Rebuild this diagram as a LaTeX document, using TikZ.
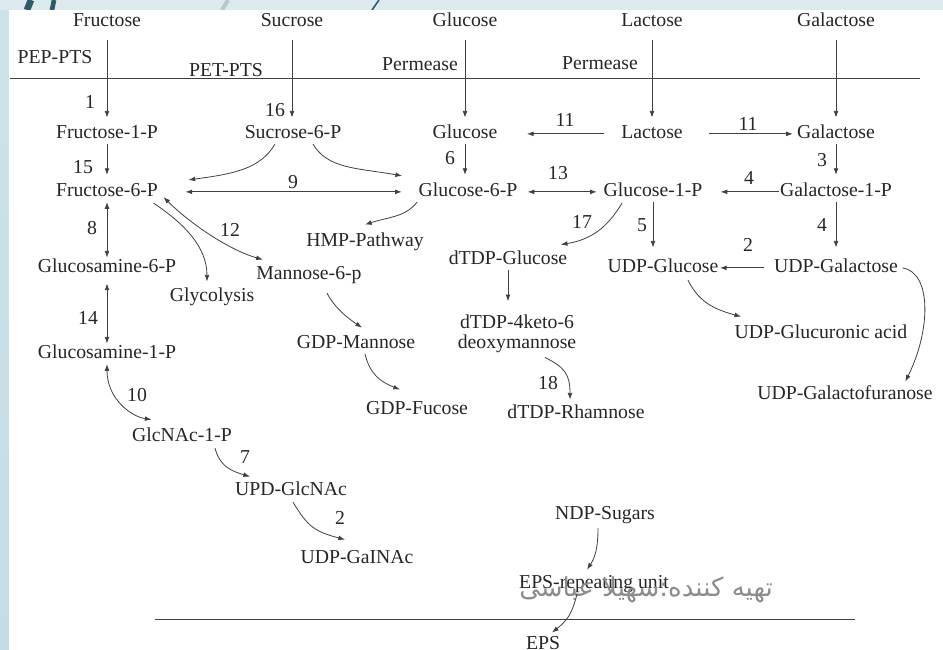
\documentclass[tikz,border=0pt]{standalone}
\usepackage{fontspec}
\setmainfont{Liberation Serif}
\newfontfamily\persianfont[Script=Arabic]{DejaVu Sans}
\TeXXeTstate=1
\usetikzlibrary{calc}
\usetikzlibrary{arrows.meta}

\begin{document}
\begin{tikzpicture}[x=0.75pt, y=-0.75pt]
    \colorlet{ink}{black!85}
\colorlet{wire}{black!75}
\colorlet{signature}{black!45}
\definecolor{slidetop}{HTML}{DCE9ED}
\definecolor{slideleft}{HTML}{C4DDE5}
\definecolor{slidedark}{HTML}{2E5A6B}
\definecolor{slidepale}{HTML}{B4C8D0}

\useasboundingbox (0, 0) rectangle (943, 650);

\begin{scope}
    \fill[slidetop] (0, 0) rectangle (943, 650);
    \fill[top color=slideleft!60!slidetop, bottom color=slideleft]
        (0, 10) rectangle (9, 650);
    \draw[slidepale, line width=3pt] (222, 10) -- (228, 0);
    \draw[slidedark, line width=5pt] (27, 10) -- (31, 0);
    \draw[slidedark, line width=3.5pt] (52, 10) -- (54, 0);
    \draw[slidedark, line width=1.2pt] (372, 10) -- (379, 0);
    \fill[white] (9, 10) rectangle (943, 650);
\end{scope}

    \tikzset{
        metab/.style={
            text=ink, font=\fontsize{14.8pt}{15pt}\selectfont,
            inner sep=1pt, text height=10pt, text depth=3pt,
            yshift=-1.4pt,
        },
        twoline/.style={
            metab, align=center,
            text height=, text depth=,
        },
        flow/.style={
            wire, line width=0.6pt,
            -{Latex[length=5pt, width=3.6pt]},
        },
        twoway/.style={
            flow,
            {Latex[length=5pt, width=3.6pt]}-{Latex[length=5pt, width=3.6pt]},
        },
        membrane/.style={wire, line width=0.7pt},
    }

    % sugars outside the cell
    \node[metab] (fru) at (107, 20) {Fructose};
    \node[metab] (suc) at (292, 20) {Sucrose};
    \node[metab] (glcout) at (465, 20) {Glucose};
    \node[metab] (lacout) at (652, 20) {Lactose};
    \node[metab] (galout) at (836, 20) {Galactose};

    \node[metab] (pep) at (55, 57) {PEP-PTS};
    \node[metab] (pet) at (226, 70) {PET-PTS};
    \node[metab] (perm-a) at (420, 64) {Permease};
    \node[metab] (perm-b) at (600, 63) {Permease};

    \draw[membrane] (10, 78) -- (920, 78);

    % inside the cell
    \node[metab] (fru1p) at (107, 132) {Fructose-1-P};
    \node[metab] (suc6p) at (293, 132) {Sucrose-6-P};
    \node[metab] (glc) at (465, 132) {Glucose};
    \node[metab] (lac) at (652, 132) {Lactose};
    \node[metab] (gal) at (836, 132) {Galactose};

    \node[metab] (fru6p) at (107, 190) {Fructose-6-P};
    \node[metab] (glc6p) at (468, 190) {Glucose-6-P};
    \node[metab] (glc1p) at (653, 190) {Glucose-1-P};
    \node[metab] (gal1p) at (836, 190) {Galactose-1-P};

    \node[metab] (gln6p) at (107, 266) {Glucosamine-6-P};
    \node[metab] (glycolysis) at (212, 295) {Glycolysis};
    \node[metab] (man6p) at (309, 273) {Mannose-6-p};
    \node[metab] (hmp) at (365, 240) {HMP-Pathway};
    \node[metab] (dtdpglc) at (508, 258) {dTDP-Glucose};
    \node[metab] (udpglc) at (663, 266) {UDP-Glucose};
    \node[metab] (udpgal) at (836, 266) {UDP-Galactose};

    \node[metab] (gln1p) at (107, 352) {Glucosamine-1-P};
    \node[metab] (gdpman) at (356, 342) {GDP-Mannose};
    \node[twoline] (dtdpketo) at (517, 332) {dTDP-4keto-6\\deoxymannose};
    \node[metab] (udpgca) at (821, 332) {UDP-Glucuronic acid};
    \node[metab] (udpgalf) at (845, 393) {UDP-Galactofuranose};
    \node[metab] (gdpfuc) at (417, 408) {GDP-Fucose};
    \node[metab] (dtdprha) at (576, 412) {dTDP-Rhamnose};

    \node[metab] (glcnac1p) at (182, 435) {GlcNAc-1-P};
    \node[metab] (udpglcnac) at (291, 489) {UPD-GlcNAc};
    \node[metab] (udpgalnac) at (357, 557) {UDP-GaINAc};

    \node[metab] (ndp) at (605, 513) {NDP-Sugars};
    \node[metab] (epsru) at (594, 582) {EPS-repeating unit};
    \node[metab] (eps) at (543, 643) {EPS};

    \draw[membrane] (155, 619) -- (855, 619);

    \node[text=signature, font=\persianfont\fontsize{19.5pt}{21pt}\selectfont,
        inner sep=0pt] (sign) at (646, 590)
        {\beginR تهیه کننده:سهیلا عباسی\endR};

    % enzyme numbers
    \node[metab] (e1) at (90, 102) {1};
    \node[metab] (e16) at (275, 110) {16};
    \node[metab] (e11a) at (565, 120) {11};
    \node[metab] (e11b) at (748, 124) {11};
    \node[metab] (e15) at (83, 167) {15};
    \node[metab] (e6) at (450, 158) {6};
    \node[metab] (e3) at (822, 160) {3};
    \node[metab] (e9) at (293, 182) {9};
    \node[metab] (e13) at (558, 173) {13};
    \node[metab] (e4a) at (749, 178) {4};
    \node[metab] (e8) at (92, 228) {8};
    \node[metab] (e12) at (230, 230) {12};
    \node[metab] (e17) at (582, 222) {17};
    \node[metab] (e5) at (642, 225) {5};
    \node[metab] (e4b) at (822, 225) {4};
    \node[metab] (e2a) at (748, 245) {2};
    \node[metab] (e14) at (88, 318) {14};
    \node[metab] (e18) at (548, 383) {18};
    \node[metab] (e10) at (137, 395) {10};
    \node[metab] (e7) at (245, 457) {7};
    \node[metab] (e2b) at (340, 518) {2};

    % uptake
    \draw[flow, shorten <=6pt, shorten >=4.5pt] (fru) -- (fru1p);
    \draw[flow, shorten <=6pt, shorten >=4.5pt] (suc) -- (suc |- suc6p.north);
    \draw[flow, shorten <=6pt, shorten >=4.5pt] (glcout) -- (glc);
    \draw[flow, shorten <=6pt, shorten >=4.5pt] (lacout) -- (lac);
    \draw[flow, shorten <=6pt, shorten >=4.5pt] (galout) -- (gal);

    % straight steps
    \draw[flow, shorten >=5pt] (fru1p) -- (fru6p);
    \draw[flow, shorten >=5pt] (glc) -- (glc |- glc6p.north);
    \draw[flow, shorten >=5pt] (gal) -- (gal1p);
    \draw[flow, shorten >=7.5pt] (glc1p) -- (glc1p |- udpglc.north);
    \draw[flow, shorten >=7.5pt] (gal1p) -- (udpgal);
    \draw[twoway] (fru6p) -- (gln6p);
    \draw[twoway, shorten <=4pt] (gln6p) -- (gln1p);
    \draw[flow, shorten >=9pt] (dtdpglc) -- (dtdpglc |- dtdpketo.north);

    \draw[flow, shorten <=12pt, shorten >=21pt] (lac.west) -- (glc.east);
    \draw[flow, shorten <=18.5pt, shorten >=2pt] (lac.east) -- (gal.west);
    \draw[twoway, shorten <=19.5pt, shorten >=11.5pt] (fru6p.east) -- (glc6p.west);
    \draw[twoway, shorten <=6.5pt, shorten >=4pt] (glc6p.east) -- (glc1p.west);
    \draw[flow, shorten >=12.5pt] (gal1p.west) -- (glc1p.east);
    \draw[flow, shorten <=6pt] (udpgal.west) -- (udpglc.east);

    % curved steps
    \draw[flow] ($(suc6p.south)+(-18,0)$)
        .. controls +(-15,25) and +(45,-6) .. ($(fru6p.east)+(29,-12)$);
    \draw[flow] ($(suc6p.south)+(20,0)$)
        .. controls +(15,25) and +(-45,-8) .. ($(glc6p.west)+(-15,-16)$);
    \draw[twoway] ($(fru6p.south east)+(4,-5)$)
        .. controls +(25,25) and +(-35,-10) .. ($(man6p.north west)+(8,-5)$);
    \draw[flow] ($(fru6p.south east)+(-6,1)$)
        .. controls +(30,20) and +(0,-35) .. ($(glycolysis.north)+(-5,-5)$);
    \draw[flow] (glc6p.south west)
        .. controls +(-12,15) and +(25,-8) .. ($(hmp.north)+(0,-7)$);
    \draw[flow] ($(man6p.south)+(18,8)$)
        .. controls +(8,15) and +(-15,-10) .. ($(gdpman.north)+(6,-6)$);
    \draw[flow] ($(gdpman.south)+(9,0)$)
        .. controls +(5,20) and +(-20,-8) .. ($(gdpfuc.north)+(-17,-10)$);
    \draw[flow] ($(glc1p.south)+(-31,1)$)
        .. controls +(-15,25) and +(30,-5) .. ($(dtdpglc.north east)+(-8,-5)$);
    \draw[flow] ($(dtdpketo.south)+(28,3)$)
        .. controls +(20,10) and +(0,-25) .. ($(dtdprha.north)+(-6,-4)$);
    \draw[flow] ($(udpglc.south)+(25,2)$)
        .. controls +(10,20) and +(-30,-8) .. ($(udpgca.north west)+(8,-7)$);
    \draw[flow] ($(udpgal.east)+(3,0)$)
        .. controls +(30,5) and +(25,-50) .. ($(udpgalf.north east)+(-29,-3)$);
    \draw[twoway] (gln1p.south)
        .. controls +(0,35) and +(-20,-3) .. ($(glcnac1p.north west)+(21,-7)$);
    \draw[flow] ($(glcnac1p.south)+(33,1)$)
        .. controls +(5,18) and +(-20,-6) .. ($(udpglcnac.north)+(-41,-4)$);
    \draw[flow] ($(udpglcnac.south)+(2,1)$)
        .. controls +(15,25) and +(-30,-8) .. ($(udpgalnac.north)+(-12,-9)$);
    \draw[flow] ($(ndp.south)+(-7,3)$)
        .. controls +(0,20) and +(8,-12) .. ($(epsru.north)+(-7,-4)$);
    \draw[flow] ($(epsru.south)+(-17,0)$)
        .. controls +(-5,20) and +(15,-12) .. ($(eps.north)+(9,-2)$);
\end{tikzpicture}
\end{document}
